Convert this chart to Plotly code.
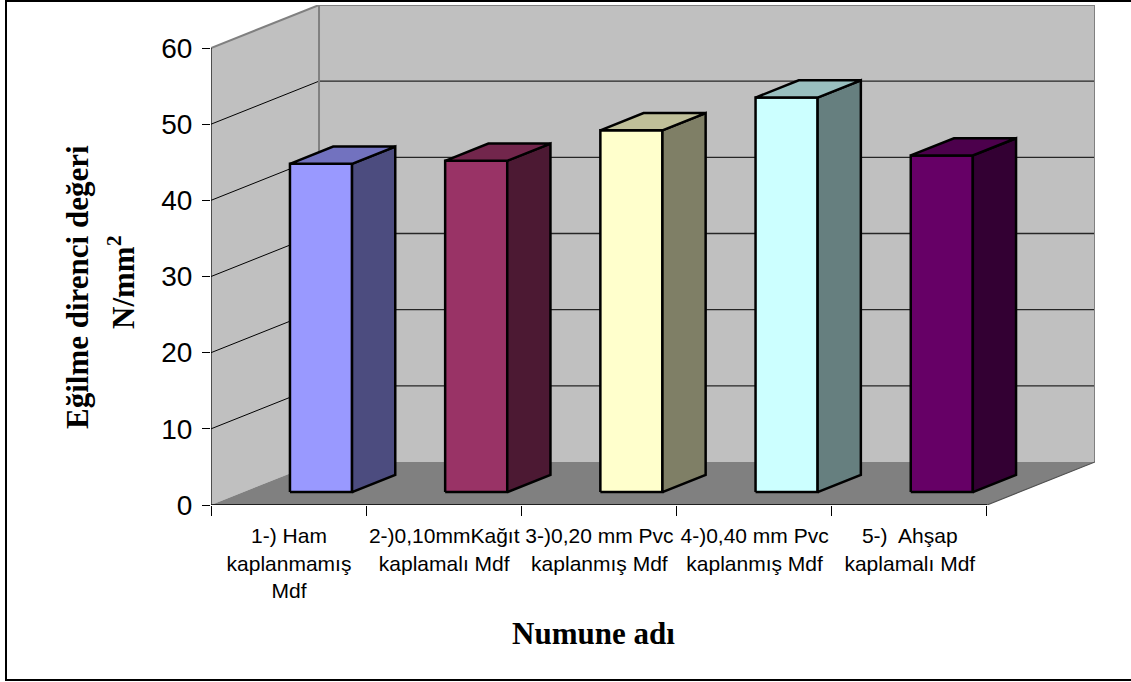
import plotly.graph_objects as go

# ---------------- data ----------------
categories = [
    "1-) Ham<br>kaplanmamış<br>Mdf",
    "2-)0,10mmKağıt<br>kaplamalı Mdf",
    "3-)0,20 mm Pvc<br>kaplanmış Mdf",
    "4-)0,40 mm Pvc<br>kaplanmış Mdf",
    "5-)  Ahşap<br>kaplamalı Mdf",
]
values = [43.1, 43.5, 47.5, 51.8, 44.2]
front_colors = ["#9999FF", "#993366", "#FFFFCC", "#CCFFFF", "#660066"]
y_ticks = [0, 10, 20, 30, 40, 50, 60]
y_max = 60
y_title_1 = "<b>Eğilme direnci değeri</b>"
y_title_2 = "<b>N/mm<sup>2</sup></b>"
x_title = "<b>Numune adı</b>"

# ---------------- oblique 3D projection settings ----------------
DX = 0.696   # depth offset in category units
DY = 5.65    # depth offset in value units
BAR_W = 0.4
D0, D1 = 0.3, 0.7
n = len(categories)

W_PX, H_PX = 1131, 682
L, R, T, B = 211, 36, 5, 177
PW = W_PX - L - R
PH = H_PX - T - B


def P(x, v, d):
    return x + d * DX, v + d * DY


def shade(hexcol, f):
    h = hexcol.lstrip("#")
    r, g, b = (int(h[i:i + 2], 16) for i in (0, 2, 4))
    return "#%02X%02X%02X" % (int(r * f), int(g * f), int(b * f))


def poly(pts, fill, line_color="black", lw=0):
    xs = [p[0] for p in pts] + [pts[0][0]]
    ys = [p[1] for p in pts] + [pts[0][1]]
    return go.Scatter(x=xs, y=ys, mode="lines", fill="toself", fillcolor=fill,
                      line=dict(color=line_color, width=lw), hoverinfo="skip",
                      showlegend=False)


def segs(seglist, color, width):
    xs, ys = [], []
    for a, b in seglist:
        xs += [a[0], b[0], None]
        ys += [a[1], b[1], None]
    return go.Scatter(x=xs, y=ys, mode="lines", line=dict(color=color, width=width),
                      hoverinfo="skip", showlegend=False)


fig = go.Figure()

# walls and floor
fig.add_trace(poly([P(0, 0, 0), P(0, y_max, 0), P(0, y_max, 1), P(0, 0, 1)], "#C0C0C0"))
fig.add_trace(poly([P(0, 0, 1), P(0, y_max, 1), P(n, y_max, 1), P(n, 0, 1)], "#C0C0C0"))
fig.add_trace(poly([P(0, 0, 0), P(n, 0, 0), P(n, 0, 1), P(0, 0, 1)], "#808080"))

# gridlines
grid_left = [(P(0, v, 0), P(0, v, 1)) for v in y_ticks[1:-1]]
grid_back = [(P(0, v, 1), P(n, v, 1)) for v in y_ticks[1:-1]]
fig.add_trace(segs(grid_left, "#000000", 1))
fig.add_trace(segs(grid_back, "#262626", 1.3))

# wall edges
fig.add_trace(segs([(P(0, y_max, 0), P(0, y_max, 1)),
                    (P(0, y_max, 1), P(n, y_max, 1)),
                    (P(n, y_max, 1), P(n, 0, 1)),
                    (P(0, y_max, 1), P(0, 0, 1))], "#808080", 2))
fig.add_trace(segs([(P(n, 0, 0), P(n, 0, 1))], "#505050", 1.2))
# axis lines
fig.add_trace(segs([(P(0, 0, 0), P(n, 0, 0))], "#000000", 1.5))
fig.add_trace(segs([(P(0, 0, 0), P(0, y_max, 0))], "#000000", 1.2))

# bars
for i, (v, c) in enumerate(zip(values, front_colors)):
    x0 = i + (1 - BAR_W) / 2
    x1 = i + (1 + BAR_W) / 2
    fig.add_trace(poly([P(x0, 0, D0), P(x1, 0, D0), P(x1, v, D0), P(x0, v, D0)], c, "black", 2.5))
    fig.add_trace(poly([P(x1, 0, D0), P(x1, 0, D1), P(x1, v, D1), P(x1, v, D0)], shade(c, 0.5), "black", 2.5))
    fig.add_trace(poly([P(x0, v, D0), P(x1, v, D0), P(x1, v, D1), P(x0, v, D1)], shade(c, 0.75), "black", 2.5))

sans = "Arial, Liberation Sans, sans-serif"
serif = "Times New Roman, Liberation Serif, serif"

fig.update_layout(
    width=W_PX, height=H_PX,
    margin=dict(l=L, r=R, t=T, b=B, pad=0),
    plot_bgcolor="white", paper_bgcolor="white",
    showlegend=False,
    xaxis=dict(range=[0, n + DX], showgrid=False, zeroline=False, showline=False,
               tickmode="array", tickvals=list(range(n)),
               ticktext=categories,
               ticks="outside", ticklen=10, tickcolor="#000000", tickwidth=1,
               minor=dict(tick0=0, dtick=1, ticks="outside", ticklen=10,
                          tickcolor="#000000", tickwidth=1, showgrid=False),
               ticklabelshift=int(round(PW / (n + DX) / 2)), ticklabelstandoff=2,
               tickfont=dict(family=sans, size=21, color="black"),
               fixedrange=True),
    yaxis=dict(range=[0, y_max + DY], showgrid=False, zeroline=False, showline=False,
               tickmode="array", tickvals=y_ticks,
               ticks="outside", ticklen=8, tickcolor="#000000", tickwidth=1,
               ticklabelstandoff=4,
               tickfont=dict(family=sans, size=28, color="black"),
               fixedrange=True),
)

# axis titles
fig.add_annotation(text=y_title_1, xref="paper", yref="paper",
                   x=(77 - L) / PW, y=(H_PX - B - 287) / PH,
                   xanchor="center", yanchor="middle", textangle=-90, showarrow=False,
                   font=dict(family=serif, size=31, color="black"))
fig.add_annotation(text=y_title_2, xref="paper", yref="paper",
                   x=(121 - L) / PW, y=(H_PX - B - 282) / PH,
                   xanchor="center", yanchor="middle", textangle=-90, showarrow=False,
                   font=dict(family=serif, size=31, color="black"))
fig.add_annotation(text=x_title, xref="paper", yref="paper",
                   x=(593 - L) / PW, y=(H_PX - B - 633) / PH,
                   xanchor="center", yanchor="middle", showarrow=False,
                   font=dict(family=serif, size=31, color="black"))

# outer chart border
fig.add_shape(type="rect", xref="paper", yref="paper",
              x0=(6 - L) / PW, x1=(1140 - L) / PW,
              y0=(H_PX - B - 680) / PH, y1=(H_PX - B - 1) / PH,
              line=dict(color="black", width=2), fillcolor="rgba(0,0,0,0)", layer="above")

fig.write_html("out.html")
